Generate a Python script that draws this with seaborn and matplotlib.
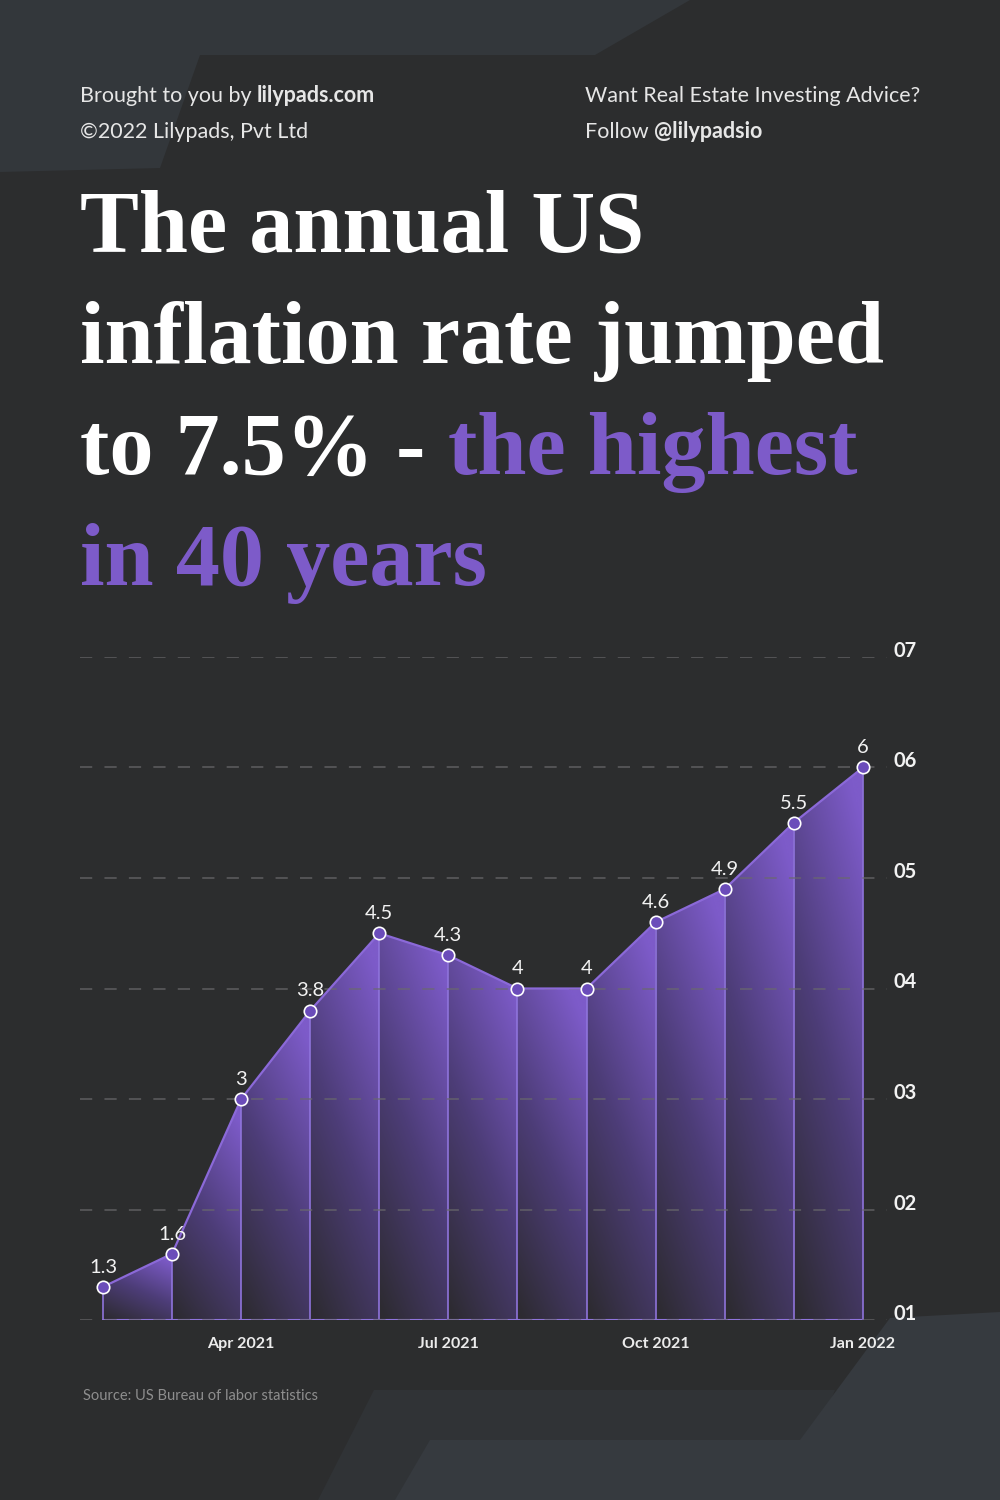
import numpy as np
import pandas as pd
import matplotlib
matplotlib.use("Agg")
import matplotlib.pyplot as plt
from matplotlib.colors import LinearSegmentedColormap
from matplotlib.patches import Polygon
import seaborn as sns

# data
months = ["Feb 2021", "Mar 2021", "Apr 2021", "May 2021", "Jun 2021", "Jul 2021",
          "Aug 2021", "Sep 2021", "Oct 2021", "Nov 2021", "Dec 2021", "Jan 2022"]
rates = [1.3, 1.6, 3, 3.8, 4.5, 4.3, 4, 4, 4.6, 4.9, 5.5, 6]
rate_labels = ["1.3", "1.6", "3", "3.8", "4.5", "4.3", "4", "4", "4.6", "4.9", "5.5", "6"]
tick_months = ["Apr 2021", "Jul 2021", "Oct 2021", "Jan 2022"]
y_ticks = [1, 2, 3, 4, 5, 6, 7]
y_tick_labels = ["01", "02", "03", "04", "05", "06", "07"]

df = pd.DataFrame({"month": months, "rate": rates})
df["idx"] = np.arange(len(df))

BG = "#2c2d2e"
PURPLE = "#7d5bc9"
WHITE = "#f2f2f2"

sns.set_style("dark", {"axes.facecolor": "none", "figure.facecolor": BG})
plt.rcParams["font.family"] = ["Lato", "DejaVu Sans"]

fig = plt.figure(figsize=(10, 15), dpi=100)
fig.patch.set_facecolor(BG)

# subtle background shapes (pixel coords, y down)
bg = fig.add_axes([0, 0, 1, 1], zorder=-5)
bg.set_xlim(0, 1000)
bg.set_ylim(1500, 0)
bg.axis("off")
shapes = [
    ([(0, 0), (690, 0), (595, 55), (200, 55), (160, 168), (0, 172)], "#33373b"),
    ([(318, 1500), (374, 1390), (835, 1390), (790, 1500)], "#303336"),
    ([(395, 1500), (430, 1440), (800, 1440), (890, 1318), (1000, 1312), (1000, 1500)], "#363a3f"),
]
for pts, c in shapes:
    bg.add_patch(Polygon(pts, closed=True, facecolor=c, edgecolor="none"))

ax = fig.add_axes([0.08, 0.12, 0.807, 0.442])
ax.set_facecolor("none")

x = df["idx"].to_numpy(dtype=float)
y = df["rate"].to_numpy(dtype=float)

# gradient fill, one band per segment
cmap = LinearSegmentedColormap.from_list("fade", ["#2d2b31", "#4d3d78", PURPLE])
for i in range(len(x) - 1):
    x0, x1 = x[i], x[i + 1]
    top = max(y[i], y[i + 1])
    u = np.linspace(0, 1, 60)[None, :]
    v = np.linspace(0, 1, 120)[:, None]
    g = np.clip(0.75 * v + 0.35 * u - 0.02, 0, 1)
    im = ax.imshow(g, extent=[x0, x1, 1, top], origin="lower", aspect="auto",
                   cmap=cmap, vmin=0, vmax=1, zorder=1, interpolation="bilinear")
    poly = Polygon([(x0, 1), (x0, y[i]), (x1, y[i + 1]), (x1, 1)], closed=True,
                   transform=ax.transData, facecolor="none", edgecolor="none")
    ax.add_patch(poly)
    im.set_clip_path(poly)

# vertical drop lines
ax.vlines(x, 1, y, color="#8f74dc", lw=1.4, alpha=0.85, zorder=2)
ax.plot([x[0], x[-1]], [1, 1], color="#8f74dc", lw=1.5, zorder=2)

# dashed grid over the fill
for t in y_ticks:
    ax.axhline(t, color="#6a6a6c", lw=1.1, ls=(0, (8, 8)), alpha=0.8, zorder=3)

sns.lineplot(data=df, x="idx", y="rate", color="#8b69d8", lw=1.6, ax=ax, zorder=4)
sns.scatterplot(data=df, x="idx", y="rate", s=80, color="#6b4cba", edgecolor="white",
                linewidth=1.2, ax=ax, zorder=5, clip_on=False)

for xi, yi, lab in zip(x, y, rate_labels):
    ax.annotate(lab, (xi, yi), xytext=(0, 8), textcoords="offset points", ha="center",
                va="bottom", color=WHITE, fontsize=14.5, zorder=6)

ax.set_xlim(-0.333, 11.35)
ax.set_ylim(1, 7)
ax.set_xticks([months.index(m) for m in tick_months])
ax.set_xticklabels(tick_months, color="#ececec", fontsize=11.5, fontweight="bold")
ax.yaxis.tick_right()
ax.set_yticks(y_ticks)
ax.set_yticklabels(y_tick_labels, color=WHITE, fontsize=14.5, fontweight="bold")
for lab in ax.get_yticklabels():
    lab.set_verticalalignment("baseline")
ax.tick_params(axis="x", length=0, pad=12)
ax.tick_params(axis="y", length=0, pad=5)
ax.set_xlabel("")
ax.set_ylabel("")
ax.grid(False)
for s in ax.spines.values():
    s.set_visible(False)


def run(parts, x0, ypix, **kw):
    # place text pieces one after another on a single line
    fig.canvas.draw()
    r = fig.canvas.get_renderer()
    xp = x0
    for txt, style in parts:
        t = fig.text(xp / 1000, 1 - ypix / 1500, txt, ha="left", va="baseline", **kw, **style)
        xp = t.get_window_extent(renderer=r).x1
    return xp


hdr = dict(fontsize=15.5, color="#e6e6e6")
run([("Brought to you by ", {}), ("lilypads.com", {"fontweight": "bold"})], 80, 102, **hdr)
run([("\u00a92022 Lilypads, Pvt Ltd", {})], 80, 138, **hdr)
run([("Want Real Estate Investing Advice?", {})], 585, 102, **hdr)
run([("Follow ", {}), ("@lilypadsio", {"fontweight": "bold"})], 585, 138, **hdr)

ttl = dict(fontsize=63.5, fontweight="bold", family=["Liberation Serif", "DejaVu Serif"])
run([("The annual US", {"color": "white"})], 80, 252, **ttl)
run([("inflation rate jumped", {"color": "white"})], 80, 363, **ttl)
run([("to 7.5% - ", {"color": "white"}), ("the highest", {"color": PURPLE})], 80, 474, **ttl)
run([("in 40 years", {"color": PURPLE})], 80, 585, **ttl)

fig.text(0.083, 1 - 1400 / 1500, "Source: US Bureau of labor statistics", color="#8e8e8e",
         fontsize=10.5, ha="left", va="baseline")

fig.savefig("out.png", dpi=100, facecolor=BG)
